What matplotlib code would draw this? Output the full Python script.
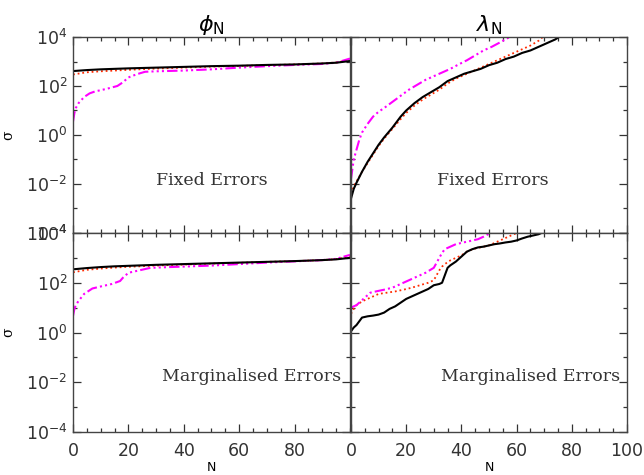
import numpy as np
import matplotlib
matplotlib.use('Agg')
from matplotlib import pyplot as plt
from matplotlib.ticker import FixedLocator, NullFormatter, MultipleLocator

# --- data: log10(sigma) ---
# phi_N, fixed errors
phi_fix_n = [0, 5, 10, 15, 20, 30, 40, 50, 60, 70, 80, 90, 95, 100]
phi_fix_black = [2.61, 2.65, 2.68, 2.70, 2.72, 2.75, 2.78, 2.81, 2.83, 2.86, 2.88, 2.92, 2.95, 3.02]
phi_fix_red = [2.47, 2.56, 2.60, 2.63, 2.66, 2.71, 2.75, 2.79, 2.82, 2.85, 2.88, 2.92, 2.96, 3.05]
phi_fix_mag_n = [0, 0.5, 1, 2, 4, 6, 8, 12, 16, 18, 20, 23, 26, 30, 40, 50, 60, 70, 80, 90, 95, 100]
phi_fix_mag = [0.55, 0.9, 1.1, 1.3, 1.55, 1.7, 1.78, 1.88, 2.0, 2.15, 2.35, 2.48, 2.58, 2.6, 2.63,
               2.68, 2.75, 2.81, 2.86, 2.9, 2.95, 3.12]

# phi_N, marginalised errors
phi_mar_n = [0, 5, 10, 15, 20, 30, 40, 50, 60, 70, 80, 90, 95, 100]
phi_mar_black = [2.54, 2.59, 2.63, 2.66, 2.68, 2.72, 2.75, 2.78, 2.81, 2.84, 2.87, 2.91, 2.94, 3.0]
phi_mar_red = [2.42, 2.52, 2.57, 2.61, 2.64, 2.69, 2.73, 2.77, 2.80, 2.84, 2.87, 2.91, 2.95, 3.04]
phi_mar_mag_n = [0, 0.5, 1, 2, 4, 7, 10, 14, 17, 18, 20, 24, 28, 35, 40, 50, 60, 70, 80, 90, 95, 100]
phi_mar_mag = [0.67, 0.95, 1.1, 1.27, 1.55, 1.77, 1.85, 1.95, 2.07, 2.2, 2.4, 2.5, 2.6, 2.63, 2.65,
               2.69, 2.75, 2.81, 2.86, 2.91, 2.96, 3.12]

# lambda_N, fixed errors
lam_fix_n = [0, 1, 2, 4, 6, 8, 10, 12, 15, 18, 20, 23, 26, 29, 32, 35, 38, 41, 44, 47, 50, 53,
             56, 59, 62, 65, 68, 71, 74, 76]
lam_fix_black = [-2.6, -2.2, -1.95, -1.5, -1.1, -0.75, -0.4, -0.1, 0.3, 0.75, 1.0, 1.3, 1.55, 1.75,
                 1.95, 2.2, 2.35, 2.5, 2.6, 2.7, 2.85, 2.95, 3.1, 3.2, 3.35, 3.45, 3.6, 3.75, 3.9, 4.05]
lam_fix_red_n = [0, 1, 2, 4, 6, 8, 10, 12, 15, 18, 20, 23, 26, 29, 32, 35, 38, 41, 44, 47, 50, 53,
                 56, 59, 62, 65, 68, 70]
lam_fix_red = [-2.4, -2.1, -1.9, -1.5, -1.15, -0.8, -0.45, -0.15, 0.25, 0.65, 0.9, 1.2, 1.45, 1.65,
               1.85, 2.1, 2.3, 2.45, 2.6, 2.75, 2.9, 3.05, 3.2, 3.35, 3.5, 3.65, 3.85, 4.05]
lam_fix_mag_n = [0, 1, 2, 3, 4, 6, 8, 10, 12, 15, 18, 21, 24, 27, 30, 33, 36, 39, 42, 45, 48, 51,
                 54, 57, 58]
lam_fix_mag = [-1.8, -1.0, -0.6, -0.2, 0.1, 0.45, 0.75, 0.95, 1.1, 1.35, 1.6, 1.85, 2.05, 2.25,
               2.4, 2.55, 2.7, 2.88, 3.05, 3.25, 3.45, 3.6, 3.78, 3.97, 4.05]

# lambda_N, marginalised errors
lam_mar_n = [0, 1, 2, 3, 4, 6, 8, 10, 12, 14, 16, 18, 20, 22, 24, 26, 28, 30, 32, 33, 34, 35, 36,
             38, 40, 42, 44, 46, 48, 50, 52, 54, 56, 58, 60, 62, 64, 66, 68, 70]
lam_mar_black = [0.05, 0.2, 0.3, 0.45, 0.6, 0.65, 0.68, 0.72, 0.8, 0.95, 1.05, 1.2, 1.35, 1.45,
                 1.55, 1.65, 1.75, 1.9, 1.95, 2.0, 2.3, 2.6, 2.7, 2.85, 3.05, 3.25, 3.35, 3.42,
                 3.45, 3.5, 3.55, 3.58, 3.62, 3.65, 3.7, 3.78, 3.85, 3.9, 3.95, 4.05]
lam_mar_red_n = [0, 1, 2, 4, 6, 8, 10, 13, 16, 19, 22, 25, 28, 30, 31, 32, 33, 34, 36, 38, 40, 42,
                 44, 46, 48, 50, 52, 54, 56, 58, 60, 61]
lam_mar_red = [0.75, 0.95, 1.1, 1.25, 1.35, 1.45, 1.55, 1.6, 1.65, 1.72, 1.8, 1.9, 2.0, 2.1, 2.3,
               2.5, 2.65, 2.75, 2.9, 3.0, 3.1, 3.25, 3.35, 3.4, 3.45, 3.5, 3.6, 3.7, 3.8, 3.9, 4.0, 4.05]
lam_mar_mag_n = [0, 1, 2, 3, 5, 7, 9, 12, 15, 18, 21, 24, 27, 30, 31, 32, 33, 34, 36, 38, 40, 42,
                 44, 46, 48, 50, 51]
lam_mar_mag = [1.0, 1.05, 1.1, 1.2, 1.4, 1.6, 1.65, 1.72, 1.8, 1.95, 2.1, 2.25, 2.4, 2.6, 2.8,
               3.0, 3.2, 3.35, 3.45, 3.55, 3.6, 3.65, 3.7, 3.75, 3.85, 3.97, 4.05]

y_ticks = [1e-4, 1e-2, 1e0, 1e2, 1e4]
y_labels = ['10$^{-4}$', '10$^{-2}$', '10$^{0}$', '10$^{2}$', '10$^{4}$']
x_ticks_left = [0, 20, 40, 60, 80]
x_ticks_right = [0, 20, 40, 60, 80, 100]

plt.rcParams['font.family'] = ['DejaVu Sans']
plt.rcParams['mathtext.fontset'] = 'dejavusans'

fig = plt.figure(figsize=(6.44, 4.75), dpi=100)
axw_l, axw_r = 0.430, 0.4286
ax_tl = fig.add_axes([0.1134, 0.5095, axw_l, 0.4126])
ax_tr = fig.add_axes([0.545, 0.5095, axw_r, 0.4126])
ax_bl = fig.add_axes([0.1134, 0.0905, axw_l, 0.419])
ax_br = fig.add_axes([0.545, 0.0905, axw_r, 0.419])

black_kw = dict(color='black', lw=1.5)
red_kw = dict(color='#ff2a00', lw=1.3, linestyle=(0, (1, 1.6)))
mag_kw = dict(color='#ff00ff', lw=1.5, linestyle=(0, (5, 1.5, 1, 1.5, 1, 1.5, 1, 1.5)))


def sig(v):
    return 10.0 ** np.asarray(v)


ax_tl.plot(phi_fix_n, sig(phi_fix_red), **red_kw)
ax_tl.plot(phi_fix_mag_n, sig(phi_fix_mag), **mag_kw)
ax_tl.plot(phi_fix_n, sig(phi_fix_black), **black_kw)

ax_bl.plot(phi_mar_n, sig(phi_mar_red), **red_kw)
ax_bl.plot(phi_mar_mag_n, sig(phi_mar_mag), **mag_kw)
ax_bl.plot(phi_mar_n, sig(phi_mar_black), **black_kw)

ax_tr.plot(lam_fix_red_n, sig(lam_fix_red), **red_kw)
ax_tr.plot(lam_fix_mag_n, sig(lam_fix_mag), **mag_kw)
ax_tr.plot(lam_fix_n, sig(lam_fix_black), **black_kw)

ax_br.plot(lam_mar_red_n, sig(lam_mar_red), **red_kw)
ax_br.plot(lam_mar_mag_n, sig(lam_mar_mag), **mag_kw)
ax_br.plot(lam_mar_n, sig(lam_mar_black), **black_kw)

for ax in [ax_tl, ax_tr, ax_bl, ax_br]:
    ax.set_yscale('log')
    ax.set_xlim(0, 100)
    ax.set_ylim(1e-4, 1e4)
    ax.yaxis.set_major_locator(FixedLocator(y_ticks))
    ax.yaxis.set_minor_locator(FixedLocator([1e-3, 1e-1, 1e1, 1e3]))
    ax.yaxis.set_minor_formatter(NullFormatter())
    ax.xaxis.set_major_locator(MultipleLocator(20))
    ax.xaxis.set_minor_locator(MultipleLocator(5))
    ax.tick_params(which='both', direction='in', top=True, right=True, color='#333333',
                   labelsize=12.5, labelcolor='#333333')
    ax.tick_params(axis='x', pad=7)
    ax.tick_params(axis='y', pad=4)
    ax.tick_params(which='major', length=6, width=0.9)
    ax.tick_params(which='minor', length=3, width=0.9)
    for s in ax.spines.values():
        s.set_color('#444444')
        s.set_linewidth(1.0)

for ax in [ax_tl, ax_bl]:
    ax.set_yticklabels(y_labels)
    ax.set_ylabel('σ', family='DejaVu Serif', fontsize=10, labelpad=8)
for ax in [ax_tr, ax_br]:
    ax.set_yticklabels([])
for ax in [ax_tl, ax_tr]:
    ax.set_xticklabels([])

ax_bl.set_xticks(x_ticks_left)
ax_bl.set_xticklabels([str(v) for v in x_ticks_left])
ax_br.set_xticks(x_ticks_right)
ax_br.set_xticklabels([str(v) for v in x_ticks_right])
ax_bl.set_xlabel('N', fontsize=9, labelpad=1)
ax_br.set_xlabel('N', fontsize=9, labelpad=1)

ax_tl.set_title(r'$\phi_{\rm N}$', fontsize=16, pad=4)
ax_tr.set_title(r'$\lambda_{\rm N}$', fontsize=16, pad=4)

txt_kw = dict(family='DejaVu Serif', fontsize=12.5, color='#333333', ha='center', va='center')
ax_tl.text(0.5, 0.27, 'Fixed Errors', transform=ax_tl.transAxes, **txt_kw)
ax_tr.text(0.515, 0.27, 'Fixed Errors', transform=ax_tr.transAxes, **txt_kw)
ax_bl.text(0.645, 0.28, 'Marginalised Errors', transform=ax_bl.transAxes, **txt_kw)
ax_br.text(0.65, 0.28, 'Marginalised Errors', transform=ax_br.transAxes, **txt_kw)

fig.savefig('out.png', dpi=100)
